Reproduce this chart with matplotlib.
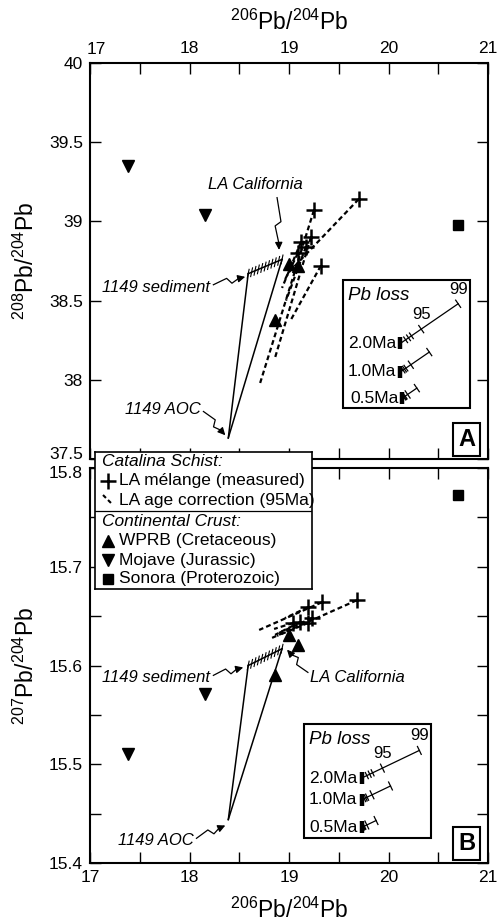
import numpy as np
import matplotlib

matplotlib.use("Agg")
import matplotlib.pyplot as plt  # noqa: E402
from matplotlib.ticker import MultipleLocator  # noqa: E402

plt.rcParams["font.family"] = ["Liberation Sans", "DejaVu Sans"]
plt.rcParams["mathtext.fontset"] = "custom"
plt.rcParams["mathtext.rm"] = "Liberation Sans"
plt.rcParams["mathtext.it"] = "Liberation Sans:italic"

# --- continental crust end-members (206Pb/204Pb, 208Pb/204Pb, 207Pb/204Pb)
wprb_x = [18.86, 19.00, 19.09]
wprb_y8 = [38.38, 38.73, 38.72]
wprb_y7 = [15.590, 15.631, 15.621]
mojave_x = [17.38, 18.16]
mojave_y8 = [39.35, 39.04]
mojave_y7 = [15.510, 15.571]
sonora_x = [20.70]
sonora_y8 = [38.98]
sonora_y7 = [15.773]

# --- Catalina Schist LA melange, measured and 95 Ma age-corrected
mel8_x = [19.70, 19.25, 19.22, 19.32, 19.12, 19.17, 19.09]
mel8_y = [39.14, 39.07, 38.90, 38.72, 38.87, 38.84, 38.80]
cor8_x = [19.00, 18.71, 18.86, 19.02, 18.93, 18.97, 18.95]
cor8_y = [38.68, 37.98, 38.14, 38.38, 38.58, 38.50, 38.62]
mel7_x = [19.68, 19.33, 19.19, 19.23, 19.19, 19.11, 19.04]
mel7_y = [15.666, 15.664, 15.659, 15.648, 15.643, 15.644, 15.643]
cor7_x = [18.83, 18.70, 18.96, 18.90, 18.88, 18.86, 18.85]
cor7_y = [15.628, 15.636, 15.648, 15.633, 15.630, 15.631, 15.637]

# --- ODP 1149 end-members: altered oceanic crust and sediment range
aoc_x, aoc_y8, aoc_y7 = 18.39, 37.633, 15.444
sed_x = [18.59, 18.93]
sed_y8 = [38.67, 38.76]
sed_y7 = [15.600, 15.617]
sed_mix_ticks = 11

# --- Pb-loss vectors (2.0 Ma vector, others scale with age)
pb_ages = [2.0, 1.0, 0.5]
pb_labels = ["2.0Ma", "1.0Ma", "0.5Ma"]
pb_vec8 = (0.58, 0.25)
pb_vec7 = (0.58, 0.028)
pb_start8 = [(20.12, 38.23), (20.12, 38.05), (20.14, 37.885)]
pb_start7 = [(19.73, 15.486), (19.73, 15.464), (19.73, 15.436)]
pb_tick_frac = [0.09, 0.14, 0.19, 0.36, 1.0]
pb_tick_text = {0.36: "95", 1.0: "99"}

# --- axis ticks
x_ticks = [17, 18, 19, 20, 21]
y8_ticks = [37.5, 38, 38.5, 39, 39.5, 40]
y8_ticklabels = ["37.5", "38", "38.5", "39", "39.5", "40"]
y7_ticks = [15.4, 15.5, 15.6, 15.7, 15.8]
y7_ticklabels = ["15.4", "15.5", "15.6", "15.7", "15.8"]

W, H = 503, 923
fig = plt.figure(figsize=(W / 100, H / 100), dpi=100)


def px_axes(left, top, right, bottom, **kw):
    return fig.add_axes([left / W, 1 - bottom / H, (right - left) / W, (bottom - top) / H], **kw)


ax8 = px_axes(90, 63, 488, 459)
ax7 = px_axes(90, 468, 488, 863)

TICK_FS = 12.5
label = r"$\mathregular{^{206}Pb/^{204}Pb}$"
for ax in (ax8, ax7):
    ax.set_xlim(17, 21)
    ax.set_xticks(x_ticks)
    ax.xaxis.set_minor_locator(MultipleLocator(0.5))
    ax.tick_params(which="both", direction="in", length=8, width=1,
                   top=True, right=True, labelsize=TICK_FS, pad=5)
    for s in ax.spines.values():
        s.set_linewidth(1.5)

# the corner labels (17 / 37.5 on top, 15.8 below) are set by hand so they clear each other
ax8.set_ylim(37.5, 40)
ax8.set_yticks(y8_ticks)
ax8.set_yticklabels([""] + y8_ticklabels[1:])
ax8.text(-0.018, 0.012, y8_ticklabels[0], transform=ax8.transAxes,
         ha="right", va="center", fontsize=TICK_FS)
ax8.set_xticklabels([""] + [str(v) for v in x_ticks[1:]])
ax8.text(0.016, 1.016, str(x_ticks[0]), transform=ax8.transAxes,
         ha="center", va="bottom", fontsize=TICK_FS)
ax8.tick_params(labeltop=True, labelbottom=False)
ax8.xaxis.set_label_position("top")
ax8.set_xlabel(label, fontsize=16.5, labelpad=8)
ax8.set_ylabel(r"$\mathregular{^{208}Pb/^{204}Pb}$", fontsize=16.5, labelpad=7)

ax7.set_ylim(15.4, 15.8)
ax7.set_yticks(y7_ticks)
ax7.set_yticklabels(y7_ticklabels[:-1] + [""])
ax7.text(-0.018, 0.985, y7_ticklabels[-1], transform=ax7.transAxes,
         ha="right", va="center", fontsize=TICK_FS)
ax7.yaxis.set_minor_locator(MultipleLocator(0.05))
ax7.set_xlabel(label, fontsize=16.5, labelpad=9)
ax7.set_ylabel(r"$\mathregular{^{207}Pb/^{204}Pb}$", fontsize=16.5, labelpad=7)


def to_px(ax, pts):
    return ax.transData.transform(np.atleast_2d(pts))


def to_data(ax, pts):
    return ax.transData.inverted().transform(np.atleast_2d(pts))


def zigzag_arrow(ax, start, end, w=3.0):
    p0, p1 = to_px(ax, [start, end])
    d = p1 - p0
    u = d / np.hypot(*d)
    n = np.array([-u[1], u[0]])
    m = p0 + 0.5 * d
    base = p1 - 7 * u
    pts = to_data(ax, [p0, m - 2 * u + w * n, m + 2 * u - w * n, base])
    ax.plot(pts[:, 0], pts[:, 1], color="k", lw=0.9, zorder=4)
    ax.annotate("", xy=end, xytext=tuple(pts[-1]),
                arrowprops=dict(arrowstyle="-|>", color="k", lw=0.9,
                                mutation_scale=11, shrinkA=0, shrinkB=0))


def cross_tick(ax, xy, angle_deg, half, lw=0.9):
    c = to_px(ax, xy)[0]
    a = np.deg2rad(angle_deg)
    v = half * np.array([np.cos(a), np.sin(a)])
    seg = to_data(ax, [c - v, c + v])
    ax.plot(seg[:, 0], seg[:, 1], color="k", lw=lw, solid_capstyle="butt", zorder=4)


def draw_panel(ax, y_wprb, y_moj, y_son, mx, my, cx, cy, aoc_y, sed_y):
    # mixing lines AOC -> sediment, and sediment range with 10% ticks
    for sx, sy in zip(sed_x, sed_y):
        ax.plot([aoc_x, sx], [aoc_y, sy], color="k", lw=1.1, zorder=3)
    ax.plot(sed_x, sed_y, color="k", lw=1.1, zorder=3)
    for f in np.linspace(0, 1, sed_mix_ticks):
        pt = (sed_x[0] + f * (sed_x[1] - sed_x[0]), sed_y[0] + f * (sed_y[1] - sed_y[0]))
        cross_tick(ax, pt, 78, 5, lw=0.8)

    # age correction
    for x0, y0, x1, y1 in zip(mx, my, cx, cy):
        ax.plot([x0, x1], [y0, y1], color="k", lw=1.6, ls=(0, (2.2, 1.4)), zorder=3)
    ax.plot(mx, my, ls="none", marker="+", ms=11, mew=1.8, color="k", zorder=5)

    ax.plot(wprb_x, y_wprb, ls="none", marker="^", ms=8, color="k", zorder=5)
    ax.plot(mojave_x, y_moj, ls="none", marker="v", ms=8, color="k", zorder=5)
    ax.plot(sonora_x, y_son, ls="none", marker="s", ms=7, color="k", zorder=5)


def pb_loss_inset(ax, box, label_xy, starts, vec):
    x0, y0, x1, y1 = box
    ax.add_patch(plt.Rectangle((x0, y0), x1 - x0, y1 - y0, transform=ax.transAxes,
                               fill=False, lw=1.5, ec="k", zorder=4))
    ax.text(*label_xy, "Pb loss", style="italic", fontsize=13.5, ha="left", va="center")
    for i, (age, lab, (sx, sy)) in enumerate(zip(pb_ages, pb_labels, starts)):
        k = age / pb_ages[0]
        ex, ey = sx + vec[0] * k, sy + vec[1] * k
        ax.plot([sx, ex], [sy, ey], color="k", lw=0.9, zorder=4)
        ax.annotate(lab, xy=(sx, sy), xytext=(-3, 0), textcoords="offset points",
                    ha="right", va="center", fontsize=12.5)
        ax.plot([sx], [sy], marker="|", ms=8, mew=3.2, color="k", zorder=4)
        p0, p1 = to_px(ax, [(sx, sy), (ex, ey)])
        ang = np.degrees(np.arctan2(*(p1 - p0)[::-1])) + 90
        for f in pb_tick_frac:
            pt = (sx + f * (ex - sx), sy + f * (ey - sy))
            cross_tick(ax, pt, ang, 4.0 if f < 0.3 else 5.0)
            if i == 0 and f in pb_tick_text:
                ax.annotate(pb_tick_text[f], xy=pt, xytext=(0, 5), textcoords="offset points",
                            ha="center", va="bottom", fontsize=12)


def panel_letter(ax, letter):
    ax.text(0.946, 0.05, letter, transform=ax.transAxes, fontsize=17, fontweight="bold",
            ha="center", va="center",
            bbox=dict(boxstyle="square,pad=0.22", fc="white", ec="k", lw=1.5))


# 208Pb/204Pb panel
draw_panel(ax8, wprb_y8, mojave_y8, sonora_y8, mel8_x, mel8_y, cor8_x, cor8_y, aoc_y8, sed_y8)
ax8.text(18.66, 39.23, "LA California", style="italic", fontsize=12, ha="center", va="center")
zigzag_arrow(ax8, (18.88, 39.15), (18.90, 38.82))
ax8.text(18.21, 38.585, "1149 sediment", style="italic", fontsize=12, ha="right", va="center")
zigzag_arrow(ax8, (18.24, 38.60), (18.56, 38.65))
ax8.text(18.11, 37.81, "1149 AOC", style="italic", fontsize=12, ha="right", va="center")
zigzag_arrow(ax8, (18.14, 37.80), (18.36, 37.65))
pb_loss_inset(ax8, (0.636, 0.129, 0.955, 0.452), (19.59, 38.535), pb_start8, pb_vec8)
panel_letter(ax8, "A")

# 207Pb/204Pb panel
draw_panel(ax7, wprb_y7, mojave_y7, sonora_y7, mel7_x, mel7_y, cor7_x, cor7_y, aoc_y7, sed_y7)
ax7.text(19.21, 15.588, "LA California", style="italic", fontsize=12, ha="left", va="center")
zigzag_arrow(ax7, (19.19, 15.593), (18.98, 15.616))
ax7.text(18.21, 15.588, "1149 sediment", style="italic", fontsize=12, ha="right", va="center")
zigzag_arrow(ax7, (18.24, 15.590), (18.54, 15.598))
ax7.text(18.04, 15.423, "1149 AOC", style="italic", fontsize=12, ha="right", va="center")
zigzag_arrow(ax7, (18.07, 15.425), (18.36, 15.438))
pb_loss_inset(ax7, (0.538, 0.063, 0.857, 0.352), (19.20, 15.525), pb_start7, pb_vec7)
panel_letter(ax7, "B")

# shared key, drawn over both panels
lg = px_axes(95, 452, 312, 589, zorder=10)
lg.set_xlim(0, 217)
lg.set_ylim(137, 0)
lg.set_xticks([])
lg.set_yticks([])
for s in lg.spines.values():
    s.set_linewidth(1.2)
fs = 12.5
lg.text(7, 9, "Catalina Schist:", style="italic", fontsize=fs, va="center")
lg.plot([13], [29], marker="+", ms=11, mew=1.8, color="k")
lg.text(24, 29, "LA mélange (measured)", fontsize=fs, va="center")
lg.plot([8, 18], [43, 53], color="k", lw=1.5, ls=(0, (2, 1.4)))
lg.text(24, 48, "LA age correction (95Ma)", fontsize=fs, va="center")
lg.plot([0, 217], [59, 59], color="k", lw=0.9)
lg.text(7, 69, "Continental Crust:", style="italic", fontsize=fs, va="center")
key_rows = [("^", "WPRB (Cretaceous)", 89), ("v", "Mojave (Jurassic)", 108),
            ("s", "Sonora (Proterozoic)", 127)]
for mk, txt, yy in key_rows:
    lg.plot([13], [yy], marker=mk, ms=8 if mk != "s" else 7, color="k")
    lg.text(24, yy, txt, fontsize=fs, va="center")

fig.savefig("out.png", dpi=100)
